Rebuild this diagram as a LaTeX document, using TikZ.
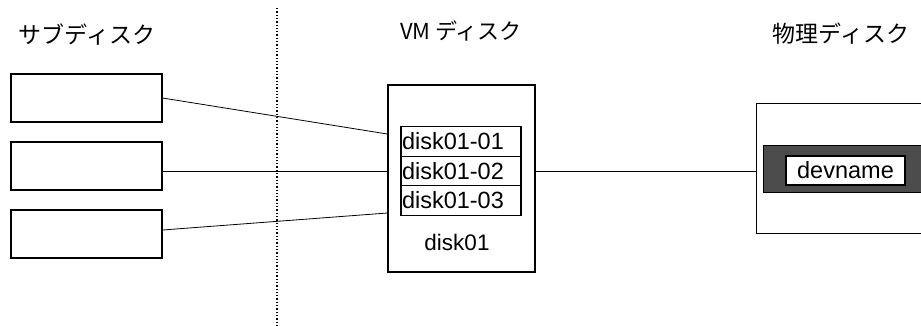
\documentclass[tikz,border=0pt]{standalone}
\usepackage{fontspec}
\setmainfont{Liberation Sans}
\newfontfamily\jpfont{Noto Sans CJK JP}
\usetikzlibrary{positioning}

\begin{document}
\begin{tikzpicture}[x=1pt, y=-1pt]
\useasboundingbox (0,0) rectangle (921,325);
\clip (0,0) rectangle (921,325);

% 見出し
\node (subtitle) [font=\jpfont\fontsize{23}{27}\selectfont] at (87,35) {サブディスク};
\node (vmtitle) [font=\jpfont\fontsize{22}{26}\selectfont] at (461,31) {VM ディスク};
\node (phystitle) [font=\jpfont\fontsize{23}{27}\selectfont] at (841,34) {物理ディスク};

% 区切り線
\coordinate (septop) at (277,8);
\coordinate (sepbottom) at (277,325);
\draw[dotted, line width=1.3pt] (septop) -- (sepbottom);

% サブディスク
\node (sub1) [rectangle, draw=black, line width=1.1pt, minimum width=151pt, minimum height=48pt] at (86.5,98) {};
\node (sub2) [rectangle, draw=black, line width=1.1pt, minimum width=151pt, minimum height=48pt] at (86.5,166) {};
\node (sub3) [rectangle, draw=black, line width=1.1pt, minimum width=151pt, minimum height=48pt] at (86.5,234) {};

% VM ディスク
\node (vm) [rectangle, draw=black, line width=1.4pt, minimum width=147pt, minimum height=187pt] at (461.5,178.5) {};
\node (d1) [rectangle, draw=black, line width=1.3pt, outer sep=0pt, inner xsep=1pt, inner ysep=0pt, text width=118pt, minimum height=29.5pt, font=\fontsize{23.5}{25}\selectfont] at (461,141.5) {disk01-01};
\node (d2) [rectangle, draw=black, line width=1.3pt, outer sep=0pt, inner xsep=1pt, inner ysep=0pt, text width=118pt, minimum height=29.5pt, font=\fontsize{23.5}{25}\selectfont, below=0pt of d1] {disk01-02};
\node (d3) [rectangle, draw=black, line width=1.3pt, outer sep=0pt, inner xsep=1pt, inner ysep=0pt, text width=118pt, minimum height=29.5pt, font=\fontsize{23.5}{25}\selectfont, below=0pt of d2] {disk01-03};
\node (vmname) [font=\fontsize{22.5}{24}\selectfont] at (457,242) {disk01};

% 物理ディスク
\node (phys) [rectangle, draw=black, line width=1.4pt, minimum width=200pt, minimum height=130pt, anchor=north west] at (756,103) {};
\node (band) [rectangle, draw=black, fill=black!70, line width=1pt, minimum width=180pt, minimum height=47pt, anchor=north west] at (763,145) {};
\node (dev) [rectangle, draw=black, fill=white, line width=1.3pt, minimum width=119pt, minimum height=29pt, inner sep=0pt, font=\fontsize{23.5}{25}\selectfont] at (845.5,170.5) {devname};

\draw[line width=0.8pt] (sub1.east) -- ([yshift=44.5pt]vm.west);
\draw[line width=0.8pt] (sub2.east |- d2.west) -- (vm.west |- d2.west);
\draw[line width=0.8pt] ([yshift=4pt]sub3.east) -- ([yshift=-34.5pt]vm.west);
\draw[line width=0.8pt] (vm.east |- d2.east) -- (phys.west |- d2.east);

\end{tikzpicture}
\end{document}
